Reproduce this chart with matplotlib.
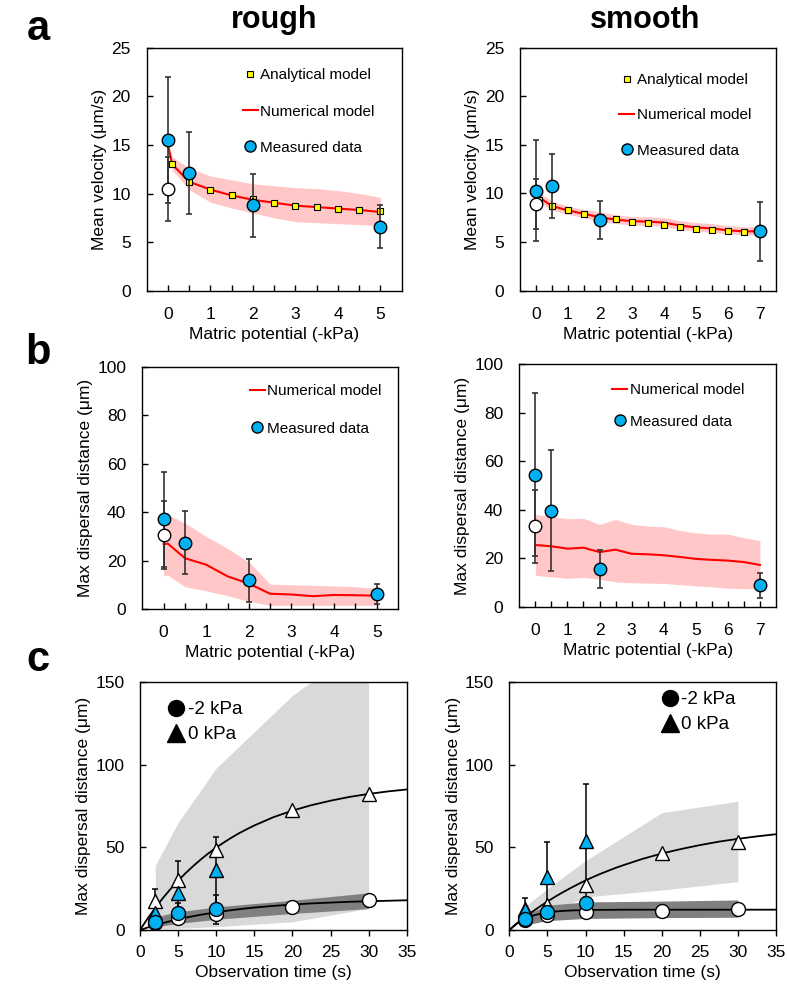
import matplotlib.pyplot as plt
from matplotlib.lines import Line2D

plt.rcParams['font.family'] = ['Liberation Sans', 'DejaVu Sans']

W, H = 787, 989

BLUE = "#00B0F0"
PINK = "#FFC7C7"
LIGHT = "#D9D9D9"
DARK = "#808080"

# ---------------- panel a : mean velocity ----------------
a_rough_ana_x = [0.1, 0.5, 1, 1.5, 2, 2.5, 3, 3.5, 4, 4.5, 5]
a_rough_ana_y = [13.0, 11.2, 10.4, 9.8, 9.4, 9.05, 8.75, 8.6, 8.45, 8.3, 8.25]
a_rough_num_x = [0, 0.1, 0.5, 1, 1.5, 2, 2.5, 3, 3.5, 4, 4.5, 5]
a_rough_num_y = [15.0, 13.0, 11.2, 10.4, 9.8, 9.35, 9.05, 8.75, 8.6, 8.45, 8.3, 8.1]
a_rough_num_hi = [15.3, 13.8, 12.6, 11.8, 11.4, 11.0, 10.8, 10.6, 10.5, 10.3, 10.0, 9.6]
a_rough_num_lo = [14.7, 12.4, 10.4, 9.1, 8.5, 8.0, 7.5, 7.1, 7.0, 6.9, 6.8, 6.7]
a_rough_meas_x = [0, 0.5, 2, 5]
a_rough_meas_y = [15.5, 12.1, 8.8, 6.6]
a_rough_meas_err = [6.5, 4.25, 3.25, 2.2]
a_rough_open_x = [0]
a_rough_open_y = [10.5]
a_rough_open_err = [3.3]

a_smooth_ana_x = [0.1, 0.5, 1, 1.5, 2, 2.5, 3, 3.5, 4, 4.5, 5, 5.5, 6, 6.5]
a_smooth_ana_y = [9.3, 8.7, 8.25, 7.9, 7.6, 7.35, 7.1, 6.95, 6.75, 6.55, 6.35, 6.25, 6.1, 6.0]
a_smooth_num_x = [0, 0.5, 1, 1.5, 2, 2.5, 3, 3.5, 4, 4.5, 5, 5.5, 6, 6.5, 7]
a_smooth_num_y = [9.8, 8.7, 8.25, 7.9, 7.55, 7.3, 7.15, 7.1, 7.0, 6.7, 6.5, 6.4, 6.2, 6.1, 6.1]
a_smooth_num_hi = [10.3, 9.2, 8.7, 8.35, 8.1, 7.8, 7.6, 7.6, 7.5, 7.2, 7.0, 6.9, 6.7, 6.6, 6.55]
a_smooth_num_lo = [9.3, 8.3, 7.85, 7.5, 7.1, 6.9, 6.75, 6.7, 6.6, 6.3, 6.1, 6.0, 5.85, 5.75, 5.7]
a_smooth_meas_x = [0, 0.5, 2, 7]
a_smooth_meas_y = [10.3, 10.8, 7.3, 6.1]
a_smooth_meas_err = [5.2, 3.3, 1.95, 3.0]
a_smooth_open_x = [0]
a_smooth_open_y = [8.9]
a_smooth_open_err = [2.6]

# ---------------- panel b : max dispersal distance vs potential ----------------
b_rough_num_x = [0, 0.1, 0.5, 1, 1.5, 2, 2.5, 3, 3.5, 4, 4.5, 5]
b_rough_num_y = [26.8, 27.0, 21.0, 18.3, 13.5, 10.5, 6.3, 6.0, 5.3, 5.8, 5.7, 5.5]
b_rough_num_hi = [39.3, 39.0, 35.5, 30.0, 25.0, 19.5, 10.3, 10.0, 9.8, 9.5, 9.2, 8.5]
b_rough_num_lo = [13.8, 14.0, 9.2, 7.5, 5.5, 3.2, 1.5, 1.5, 1.5, 1.5, 1.5, 1.5]
b_rough_meas_x = [0, 0.5, 2, 5]
b_rough_meas_y = [37.0, 27.3, 11.8, 6.2]
b_rough_meas_err = [19.5, 13.0, 9.0, 4.3]
b_rough_open_x = [0]
b_rough_open_y = [30.5]
b_rough_open_err = [14.0]

b_smooth_num_x = [0, 0.5, 1, 1.5, 2, 2.5, 3, 3.5, 4, 4.5, 5, 5.5, 6, 6.5, 7]
b_smooth_num_y = [25.5, 25.0, 24.0, 24.4, 22.6, 23.6, 21.9, 21.7, 21.3, 20.6, 19.8, 19.4, 19.1, 18.5, 17.3]
b_smooth_num_hi = [38.0, 37.3, 36.3, 36.5, 34.0, 36.0, 34.0, 33.3, 33.0, 31.5, 30.5, 30.0, 30.0, 28.5, 27.3]
b_smooth_num_lo = [13.0, 12.4, 11.8, 12.2, 11.5, 10.3, 10.0, 9.8, 9.7, 9.2, 8.7, 8.3, 7.7, 7.6, 7.3]
b_smooth_meas_x = [0, 0.5, 2, 7]
b_smooth_meas_y = [54.5, 39.7, 15.7, 8.9]
b_smooth_meas_err = [33.7, 25.0, 7.8, 5.2]
b_smooth_open_x = [0]
b_smooth_open_y = [33.2]
b_smooth_open_err = [15.0]

# ---------------- panel c : max dispersal distance vs time ----------------
c_times = [2, 5, 10, 20, 30]
c_meas_times = [2, 5, 10]
c_curve_t = [0, 1, 2, 3, 4, 5, 6, 7, 8, 9, 10, 11, 12, 13, 14, 15,
             17.5, 20, 22.5, 25, 27.5, 30, 32.5, 35]

c_rough_open_tri = [17.3, 30.5, 48.5, 72.8, 82.4]
c_rough_open_circ = [4.0, 7.2, 9.8, 14.1, 18.2]
c_rough_blue_tri = [10.5, 22.6, 36.3]
c_rough_blue_tri_err = [14.5, 19.2, 20.3]
c_rough_blue_circ = [5.0, 10.5, 12.5]
c_rough_blue_circ_err = [2.0, 6.0, 8.9]
c_rough_light_hi = [39, 65, 98, 142, 175]
c_rough_light_lo = [0.5, 1, 2, 5, 13]
c_rough_dark_hi = [8, 11, 14, 18, 22.5]
c_rough_dark_lo = [2, 4, 6.5, 10, 13]
c_rough_tri_curve = [0, 7.0, 13.4, 19.3, 24.8, 29.9, 34.5, 38.8, 42.8, 46.5, 49.9, 53.0,
                     55.9, 58.6, 61.0, 63.3, 68.3, 72.3, 75.6, 78.3, 80.6, 82.4, 83.9, 85.1]
c_rough_circ_curve = [0, 1.5, 2.9, 4.2, 5.4, 6.5, 7.5, 8.4, 9.25, 10.0, 10.7, 11.4,
                      12.0, 12.6, 13.1, 13.6, 14.6, 15.4, 16.1, 16.6, 17.1, 17.4, 17.7, 18.0]

c_smooth_open_tri = [13.0, 15.2, 27.3, 46.9, 53.5]
c_smooth_open_circ = [6.0, 9.3, 10.8, 11.8, 12.9]
c_smooth_blue_tri = [12.1, 31.9, 54.1]
c_smooth_blue_tri_err = [7.1, 21.2, 34.2]
c_smooth_blue_circ = [6.9, 11.1, 16.2]
c_smooth_blue_circ_err = [1.0, 1.5, 2.0]
c_smooth_light_hi = [14, 25, 42, 71, 78]
c_smooth_light_lo = [5, 10, 20, 24.2, 29.3]
c_smooth_dark_hi = [9, 15, 17, 17.5, 18.2]
c_smooth_dark_lo = [3, 5.7, 7, 7.5, 7.7]
c_smooth_tri_curve = [0, 3.9, 7.5, 11.0, 14.2, 17.2, 20.1, 22.8, 25.3, 27.7, 30.0, 32.1,
                      34.1, 35.9, 37.7, 39.3, 43.1, 46.3, 49.0, 51.4, 53.5, 55.2, 56.7, 58.0]
c_smooth_circ_curve = [0, 4.1, 6.8, 8.6, 9.8, 10.6, 11.2, 11.55, 11.8, 11.95, 12.1, 12.15,
                       12.2, 12.2, 12.25, 12.3, 12.3, 12.3, 12.3, 12.3, 12.3, 12.3, 12.3, 12.3]


fig = plt.figure(figsize=(W / 100, H / 100), dpi=100)


def add_axes_px(left, top, right, bottom):
    return fig.add_axes([left / W, 1 - bottom / H, (right - left) / W, (bottom - top) / H])


def style_axes(ax, xdir, ydir, xpad, ypad):
    for s in ax.spines.values():
        s.set_linewidth(1.0)
        s.set_color("black")
    ax.tick_params(axis="x", which="both", direction=xdir, length=4, labelsize=12.5, width=1, pad=xpad)
    ax.tick_params(axis="y", which="both", direction=ydir, length=4, labelsize=12.5, width=1, pad=ypad)


def draw_potential_panel(ax, xmax, ylim, yticks, ylabel, num_x, num_y, num_hi, num_lo,
                         meas_x, meas_y, meas_err, open_x, open_y, open_err,
                         ana_x=None, ana_y=None):
    ax.fill_between(num_x, num_lo, num_hi, color=PINK, lw=0, zorder=1)
    ax.plot(num_x, num_y, color="red", lw=1.5, zorder=2)
    if ana_x is not None:
        ax.plot(ana_x, ana_y, ls="none", marker="s", ms=4.8, mfc="#FFFF00", mec="black",
                mew=0.8, zorder=3)
    ax.errorbar(open_x, open_y, yerr=open_err, fmt="none", ecolor="#333333",
                elinewidth=1.2, capsize=2, capthick=1.2, zorder=4)
    ax.errorbar(meas_x, meas_y, yerr=meas_err, fmt="none", ecolor="#333333",
                elinewidth=1.2, capsize=2, capthick=1.2, zorder=4)
    ax.plot(open_x, open_y, ls="none", marker="o", ms=9, mfc="white", mec="black",
            mew=1.0, zorder=5)
    ax.plot(meas_x, meas_y, ls="none", marker="o", ms=9, mfc=BLUE, mec="black",
            mew=1.0, zorder=6)
    ax.set_xlim(-0.5, xmax + 0.5)
    ax.set_ylim(*ylim)
    ax.set_xticks(range(0, xmax + 1))
    ax.set_xticks([i + 0.5 for i in range(0, xmax)], minor=True)
    ax.set_yticks(yticks)
    ax.set_xlabel("Matric potential (-kPa)", fontsize=12.5, labelpad=3.5)
    ax.set_ylabel(ylabel, fontsize=12.5, labelpad=3)
    style_axes(ax, "in", "in", 11.5, 11.5)


def potential_legend(ax, left_px, top_px, spacing, with_ana):
    handles = []
    labels = []
    if with_ana:
        handles.append(Line2D([], [], ls="none", marker="s", ms=4.6, mfc="#FFFF00",
                              mec="black", mew=0.8))
        labels.append("Analytical model")
    handles.append(Line2D([], [], color="red", lw=1.5))
    labels.append("Numerical model")
    handles.append(Line2D([], [], ls="none", marker="o", ms=8, mfc=BLUE, mec="black",
                          mew=1.0))
    labels.append("Measured data")
    ax.legend(handles, labels, loc="upper left",
              bbox_to_anchor=(left_px / W, 1 - top_px / H), bbox_transform=fig.transFigure,
              frameon=False, fontsize=11, handlelength=1.0, handletextpad=0.15,
              labelspacing=spacing, borderpad=0, borderaxespad=0)


def draw_time_panel(ax, open_tri, open_circ, blue_tri, blue_tri_err, blue_circ, blue_circ_err,
                    light_hi, light_lo, dark_hi, dark_lo, tri_curve, circ_curve,
                    leg_left, leg_top):
    ax.fill_between(c_times, light_lo, light_hi, color=LIGHT, lw=0, zorder=1)
    ax.fill_between(c_times, dark_lo, dark_hi, color=DARK, lw=0, zorder=2)
    ax.plot(c_curve_t, tri_curve, color="black", lw=1.3, zorder=3)
    ax.plot(c_curve_t, circ_curve, color="black", lw=1.3, zorder=3)
    ax.errorbar(c_meas_times, blue_tri, yerr=blue_tri_err, fmt="none", ecolor="black",
                elinewidth=1.1, capsize=2, capthick=1.1, zorder=4)
    ax.errorbar(c_meas_times, blue_circ, yerr=blue_circ_err, fmt="none", ecolor="black",
                elinewidth=1.1, capsize=2, capthick=1.1, zorder=4)
    ax.plot(c_times, open_circ, ls="none", marker="o", ms=10, mfc="white", mec="black",
            mew=1.0, zorder=5)
    ax.plot(c_times, open_tri, ls="none", marker="^", ms=10.5, mfc="white", mec="black",
            mew=1.0, zorder=5)
    ax.plot(c_meas_times, blue_tri, ls="none", marker="^", ms=10.5, mfc=BLUE, mec="black",
            mew=1.0, zorder=6)
    ax.plot(c_meas_times, blue_circ, ls="none", marker="o", ms=10, mfc=BLUE, mec="black",
            mew=1.0, zorder=7)
    ax.set_xlim(0, 35)
    ax.set_ylim(0, 150)
    ax.set_xticks(range(0, 36, 5))
    ax.set_yticks([0, 50, 100, 150])
    ax.set_xlabel("Observation time (s)", fontsize=12.5, labelpad=3.5)
    ax.set_ylabel("Max dispersal distance (μm)", fontsize=12.5, labelpad=3)
    style_axes(ax, "out", "in", 7, 11)
    handles = [Line2D([], [], ls="none", marker="o", ms=11.5, color="black"),
               Line2D([], [], ls="none", marker="^", ms=12.5, color="black")]
    ax.legend(handles, ["-2 kPa", "0 kPa"], loc="upper left",
              bbox_to_anchor=(leg_left / W, 1 - leg_top / H), bbox_transform=fig.transFigure,
              frameon=False, fontsize=13.5, handlelength=1.0, handletextpad=0.1,
              labelspacing=0.42, borderpad=0, borderaxespad=0)


# panel a
ax = add_axes_px(146.7, 47.7, 401.7, 290.7)
draw_potential_panel(ax, 5, (0, 25), range(0, 26, 5), "Mean velocity (μm/s)",
                     a_rough_num_x, a_rough_num_y, a_rough_num_hi, a_rough_num_lo,
                     a_rough_meas_x, a_rough_meas_y, a_rough_meas_err,
                     a_rough_open_x, a_rough_open_y, a_rough_open_err,
                     a_rough_ana_x, a_rough_ana_y)
potential_legend(ax, 242.5, 68.5, 1.45, True)

ax = add_axes_px(520, 47.5, 776, 290.7)
draw_potential_panel(ax, 7, (0, 25), range(0, 26, 5), "Mean velocity (μm/s)",
                     a_smooth_num_x, a_smooth_num_y, a_smooth_num_hi, a_smooth_num_lo,
                     a_smooth_meas_x, a_smooth_meas_y, a_smooth_meas_err,
                     a_smooth_open_x, a_smooth_open_y, a_smooth_open_err,
                     a_smooth_ana_x, a_smooth_ana_y)
potential_legend(ax, 619, 73, 1.4, True)

# panel b
ax = add_axes_px(142.3, 367, 398, 609)
draw_potential_panel(ax, 5, (0, 100), range(0, 101, 20), "Max dispersal distance (μm)",
                     b_rough_num_x, b_rough_num_y, b_rough_num_hi, b_rough_num_lo,
                     b_rough_meas_x, b_rough_meas_y, b_rough_meas_err,
                     b_rough_open_x, b_rough_open_y, b_rough_open_err)
potential_legend(ax, 249.5, 384, 1.55, False)

ax = add_axes_px(519.3, 364, 776, 607)
draw_potential_panel(ax, 7, (0, 100), range(0, 101, 20), "Max dispersal distance (μm)",
                     b_smooth_num_x, b_smooth_num_y, b_smooth_num_hi, b_smooth_num_lo,
                     b_smooth_meas_x, b_smooth_meas_y, b_smooth_meas_err,
                     b_smooth_open_x, b_smooth_open_y, b_smooth_open_err)
potential_legend(ax, 612, 383, 1.15, False)

# panel c
ax = add_axes_px(140, 682.3, 406.7, 930)
draw_time_panel(ax, c_rough_open_tri, c_rough_open_circ, c_rough_blue_tri, c_rough_blue_tri_err,
                c_rough_blue_circ, c_rough_blue_circ_err, c_rough_light_hi, c_rough_light_lo,
                c_rough_dark_hi, c_rough_dark_lo, c_rough_tri_curve, c_rough_circ_curve,
                167, 701)

ax = add_axes_px(509.3, 682.3, 776, 930)
draw_time_panel(ax, c_smooth_open_tri, c_smooth_open_circ, c_smooth_blue_tri, c_smooth_blue_tri_err,
                c_smooth_blue_circ, c_smooth_blue_circ_err, c_smooth_light_hi, c_smooth_light_lo,
                c_smooth_dark_hi, c_smooth_dark_lo, c_smooth_tri_curve, c_smooth_circ_curve,
                660.5, 691)

# titles and panel letters
fig.text(274 / W, 1 - 20 / H, "rough", ha="center", va="center", fontsize=22, fontweight="bold")
fig.text(645 / W, 1 - 20 / H, "smooth", ha="center", va="center", fontsize=22, fontweight="bold")
fig.text(38 / W, 1 - 29 / H, "a", ha="center", va="center", fontsize=30, fontweight="bold")
fig.text(38 / W, 1 - 353 / H, "b", ha="center", va="center", fontsize=30, fontweight="bold")
fig.text(38 / W, 1 - 660 / H, "c", ha="center", va="center", fontsize=30, fontweight="bold")

fig.savefig("out.png", dpi=100)
